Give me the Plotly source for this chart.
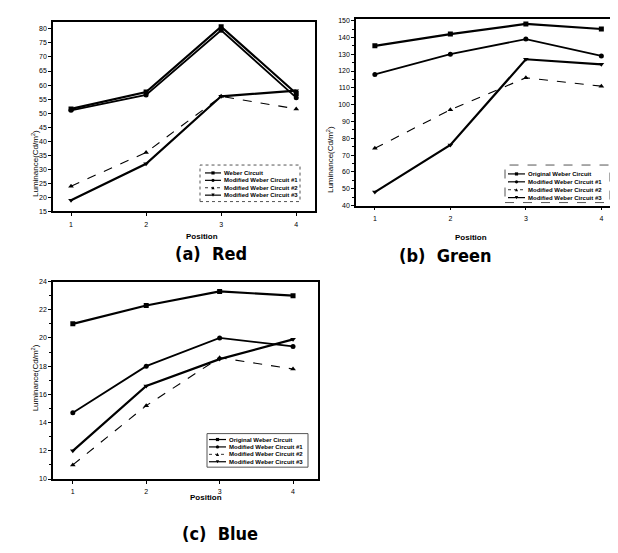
import plotly.graph_objects as go

W, H = 618, 553
positions = [1, 2, 3, 4]

# (a) Red
red_names = ["Weber Circuit", "Modified Weber Circuit #1", "Modified Weber Circuit #2", "Modified Weber Circuit #3"]
red_weber = [51.5, 57.5, 80.8, 57.0]
red_mod1 = [51.0, 56.5, 79.5, 55.5]
red_mod2 = [24.0, 36.0, 56.0, 51.5]
red_mod3 = [19.0, 32.0, 56.0, 58.0]

# (b) Green
green_names = ["Original Weber Circuit", "Modified Weber Circuit #1", "Modified Weber Circuit #2", "Modified Weber Circuit #3"]
green_orig = [135, 142, 148, 145]
green_mod1 = [118, 130, 139, 129]
green_mod2 = [74, 97, 116, 111]
green_mod3 = [48, 76, 127, 124]

# (c) Blue
blue_names = ["Original Weber Circuit", "Modified Weber Circuit #1", "Modified Weber Circuit #2", "Modified Weber Circuit #3"]
blue_orig = [21.0, 22.3, 23.3, 23.0]
blue_mod1 = [14.7, 18.0, 20.0, 19.4]
blue_mod2 = [11.0, 15.2, 18.6, 17.8]
blue_mod3 = [12.0, 16.6, 18.5, 19.9]

styles = [
    dict(symbol="square", dash="solid", width=2.2),
    dict(symbol="circle", dash="solid", width=1.8),
    dict(symbol="triangle-up", dash="dash", width=1.1),
    dict(symbol="triangle-down", dash="solid", width=2.2),
]

def px(x):
    return x / W

def py(y):
    return 1 - y / H

fig = go.Figure()

panels = [
    ("x", "y", red_names, [red_weber, red_mod1, red_mod2, red_mod3]),
    ("x2", "y2", green_names, [green_orig, green_mod1, green_mod2, green_mod3]),
    ("x3", "y3", blue_names, [blue_orig, blue_mod1, blue_mod2, blue_mod3]),
]

for xa, ya, names, series in panels:
    for name, vals, st in zip(names, series, styles):
        fig.add_trace(go.Scatter(
            x=positions, y=vals, name=name, mode="lines+markers",
            xaxis=xa, yaxis=ya, showlegend=False,
            line=dict(color="black", width=st["width"], dash=st["dash"]),
            marker=dict(symbol=st["symbol"], size=5, color="black"),
        ))

tickfont = dict(family="Liberation Sans", size=7, color="black")

def xaxis(domain, anchor, rng):
    return dict(domain=domain, anchor=anchor, range=rng, tickvals=positions,
                showline=True, linecolor="black", linewidth=1.5, mirror=True,
                ticks="outside", ticklen=3, tickcolor="black", showgrid=False, zeroline=False,
                tickfont=tickfont, ticklabelstandoff=2)

def yaxis(domain, anchor, rng, dtick):
    return dict(domain=domain, anchor=anchor, range=rng, dtick=dtick,
                showline=True, linecolor="black", linewidth=1.5, mirror=True,
                ticks="outside", ticklen=3, tickcolor="black", showgrid=False, zeroline=False,
                minor=dict(ticks="outside", ticklen=2, tickcolor="black", nticks=2),
                tickfont=tickfont)

shapes = []
annotations = []

# manual compact legends
def legend(names, box, rows, seg, dash_border):
    x0, y0, x1, y1 = box
    shapes.append(dict(type="rect", xref="paper", yref="paper",
                       x0=px(x0), x1=px(x1), y0=py(y1), y1=py(y0),
                       line=dict(color="#555", width=1, dash=dash_border)))
    sx0, sx1 = seg
    for name, ry, st in zip(names, rows, styles):
        shapes.append(dict(type="line", xref="paper", yref="paper",
                           x0=px(sx0), x1=px(sx1), y0=py(ry), y1=py(ry),
                           line=dict(color="black", width=1.2 if st["dash"] == "solid" else 0.8,
                                     dash="dot" if st["dash"] == "dash" else "solid")))
        cx = (sx0 + sx1) / 2
        r = 1.6
        if st["symbol"] == "square":
            shapes.append(dict(type="rect", xref="paper", yref="paper",
                               x0=px(cx - r), x1=px(cx + r), y0=py(ry + r), y1=py(ry - r),
                               fillcolor="black", line=dict(width=0)))
        elif st["symbol"] == "circle":
            shapes.append(dict(type="circle", xref="paper", yref="paper",
                               x0=px(cx - r), x1=px(cx + r), y0=py(ry + r), y1=py(ry - r),
                               fillcolor="black", line=dict(width=0)))
        elif st["symbol"] == "triangle-up":
            path = f"M {px(cx - r)} {py(ry + r)} L {px(cx + r)} {py(ry + r)} L {px(cx)} {py(ry - r)} Z"
            shapes.append(dict(type="path", xref="paper", yref="paper", path=path,
                               fillcolor="black", line=dict(width=0)))
        else:
            path = f"M {px(cx - r)} {py(ry - r)} L {px(cx + r)} {py(ry - r)} L {px(cx)} {py(ry + r)} Z"
            shapes.append(dict(type="path", xref="paper", yref="paper", path=path,
                               fillcolor="black", line=dict(width=0)))
        annotations.append(dict(text=f"<b>{name}</b>", x=px(sx1 + 1), y=py(ry), xref="paper", yref="paper",
                                xanchor="left", yanchor="middle", showarrow=False,
                                font=dict(family="Liberation Sans", size=6, color="black")))

legend(red_names, (192, 155, 292, 192), [163, 170.5, 178, 185.5], (197, 213), "dot")
legend(green_names, (497, 155, 602, 193), [164, 172, 180, 188], (500, 517), "dash")
legend(blue_names, (199, 427, 300, 461), [433, 440.5, 448, 455.5], (201, 218), "solid")

# axis titles
for x, y in [(176, 227), (481, 228), (180, 498)]:
    annotations.append(dict(text="<b>Position</b>", x=px(x), y=py(y), xref="paper", yref="paper",
                            showarrow=False, font=dict(family="Liberation Sans", size=8, color="black")))
for x, y in [(20, 118), (322, 114), (20, 407)]:
    annotations.append(dict(text="Luminance(Cd/m<sup>2</sup>)", x=px(x), y=py(y), xref="paper", yref="paper",
                            textangle=-90, showarrow=False,
                            font=dict(family="Liberation Sans", size=8, color="black")))

# panel captions
for text, x, y in [("(a)  Red", 165, 245), ("(b)  Green", 485, 247), ("(c)  Blue", 172, 541)]:
    annotations.append(dict(text=f"<b>{text}</b>", x=px(x), y=py(y), xref="paper", yref="paper",
                            showarrow=False,
                            font=dict(family="DejaVu Sans Condensed, DejaVu Sans", size=18, color="black")))

fig.update_layout(
    width=W, height=H,
    margin=dict(l=0, r=0, t=0, b=0),
    paper_bgcolor="white", plot_bgcolor="white",
    showlegend=False,
    xaxis=xaxis([px(45), px(307)], "y", [0.76, 4.25]),
    yaxis=yaxis([py(202), py(10)], "x", [15, 82.5], 5),
    xaxis2=xaxis([px(348), px(616)], "y2", [0.75, 4.3]),
    yaxis2=yaxis([py(196), py(7)], "x2", [40, 151], 10),
    xaxis3=xaxis([px(45), px(310)], "y3", [0.73, 4.34]),
    yaxis3=yaxis([py(473), py(273)], "x3", [10, 24], 2),
    shapes=shapes,
    annotations=annotations,
)

fig.write_html("out.html")
